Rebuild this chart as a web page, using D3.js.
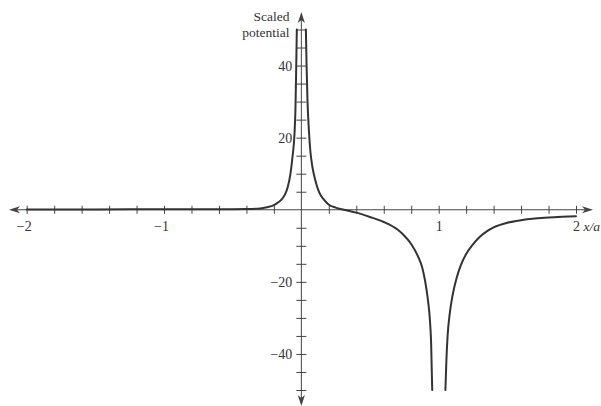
<!DOCTYPE html>
<html>
<head>
<meta charset="utf-8">
<script src="https://cdn.jsdelivr.net/npm/d3@7"></script>
<style>
  body { margin: 0; background: #fff; }
  svg { display: block; font-family: "Liberation Serif", "DejaVu Serif", serif; }
</style>
</head>
<body>
<svg id="chart" width="601" height="406"></svg>
<script>
// tick values and labels
const xTicks = [-2, -1.8, -1.6, -1.4, -1.2, -1, -0.8, -0.6, -0.4, -0.2,
                0.2, 0.4, 0.6, 0.8, 1, 1.2, 1.4, 1.6, 1.8, 2];
const xLabels = [-2, -1, 1, 2];
const yTicks = [-50, -45, -40, -35, -30, -25, -20, -15, -10, -5,
                5, 10, 15, 20, 25, 30, 35, 40, 45, 50];
const yLabels = [-40, -20, 20, 40];

// curve, three branches (x/a, scaled potential)
const leftX = [-2, -1.5, -1, -0.7, -0.5, -0.4, -0.3, -0.25, -0.2, -0.17, -0.14,
               -0.12, -0.1, -0.08, -0.065, -0.05, -0.043, -0.038, -0.033];
const leftV = [0.1, 0.1, 0.12, 0.14, 0.16, 0.2, 0.35, 0.7, 1.3, 2.0, 3.0,
               4.2, 6.2, 9.8, 14.5, 21, 28, 38, 50];

const midX = [0.033, 0.038, 0.045, 0.055, 0.065, 0.08, 0.095, 0.11, 0.13, 0.16,
              0.2, 0.25, 0.31, 0.4, 0.5, 0.6, 0.7, 0.75, 0.8, 0.85, 0.88, 0.9,
              0.92, 0.935, 0.945, 0.953];
const midV = [50, 40, 30, 22, 16.5, 12, 9.2, 7, 4.8, 3.0,
              1.4, 0.6, 0, -0.8, -2.0, -3.4, -5.5, -7.2, -9.5, -13, -16, -19.5,
              -24.5, -30, -37, -50];

const rightX = [1.049, 1.056, 1.065, 1.08, 1.1, 1.13, 1.16, 1.2, 1.25, 1.3,
                1.35, 1.4, 1.5, 1.6, 1.7, 1.8, 1.9, 2];
const rightV = [-50, -42, -35, -29, -24, -19, -15.5, -12.3, -9.6, -7.5,
                -6, -4.9, -3.6, -2.9, -2.45, -2.15, -1.95, -1.8];

const svg = d3.select("#chart");
const ink = "#333";
const axisInk = "#444";

const x = d3.scaleLinear().domain([-2, 2]).range([26.7, 576]);
const y = d3.scaleLinear().domain([-50, 50]).range([390, 29.5]);
const x0 = x(0), y0 = y(0);

const minus = d => (d < 0 ? "\u2212" : "") + Math.abs(d);

// axis lines with arrow heads
svg.append("line")
  .attr("x1", 12).attr("x2", 590).attr("y1", y0).attr("y2", y0)
  .attr("stroke", axisInk).attr("stroke-width", 1);
svg.append("line")
  .attr("x1", x0).attr("x2", x0).attr("y1", 15).attr("y2", 402)
  .attr("stroke", axisInk).attr("stroke-width", 1);

const arrow = (tx, ty, ang) => {
  const p = d3.path();
  p.moveTo(0, 0); p.lineTo(-11, -3.6); p.lineTo(-8, 0); p.lineTo(-11, 3.6); p.closePath();
  svg.append("path").attr("d", p.toString())
    .attr("transform", `translate(${tx},${ty}) rotate(${ang})`)
    .attr("fill", axisInk);
};
arrow(593, y0, 0);
arrow(9, y0, 180);
arrow(x0, 12, -90);
arrow(x0, 406, 90);

// x axis ticks
const gx = svg.append("g")
  .attr("transform", `translate(0,${y0})`)
  .call(d3.axisBottom(x).tickValues(xTicks).tickSize(4)
    .tickFormat(d => xLabels.includes(d) ? minus(d) : ""));
gx.select(".domain").remove();
gx.selectAll(".tick line").attr("y1", -4).attr("y2", 4).attr("stroke", axisInk);
gx.selectAll(".tick text")
  .attr("y", 21.5).attr("dy", 0)
  .attr("fill", ink)
  .attr("font-size", 14)
  .attr("font-family", "Liberation Serif, serif")
  .attr("text-anchor", d => d < 0 ? "end" : "middle")
  .attr("dx", d => d < 0 ? 4.5 : 0);

// y axis ticks
const gy = svg.append("g")
  .attr("transform", `translate(${x0},0)`)
  .call(d3.axisLeft(y).tickValues(yTicks).tickSize(5)
    .tickFormat(d => yLabels.includes(d) ? minus(d) : ""));
gy.select(".domain").remove();
gy.selectAll(".tick line").attr("x1", -5).attr("x2", 5).attr("stroke", axisInk);
gy.selectAll(".tick text")
  .attr("x", -9)
  .attr("fill", ink)
  .attr("font-size", 14)
  .attr("font-family", "Liberation Serif, serif");

// axis titles
svg.append("text")
  .attr("x", 289.5).attr("y", 20.5)
  .attr("text-anchor", "end").attr("font-size", 13.5).attr("fill", ink)
  .text("Scaled");
svg.append("text")
  .attr("x", 289.5).attr("y", 36.5)
  .attr("text-anchor", "end").attr("font-size", 13.5).attr("fill", ink)
  .text("potential");
svg.append("text")
  .attr("x", 583.5).attr("y", 230.5)
  .attr("font-size", 13.5).attr("font-style", "italic").attr("fill", ink)
  .text("x/a");

// the potential curve
const line = d3.line()
  .x(d => x(d[0]))
  .y(d => y(d[1]))
  .curve(d3.curveMonotoneX);

[[leftX, leftV], [midX, midV], [rightX, rightV]].forEach(([xs, vs]) => {
  svg.append("path")
    .datum(xs.map((v, i) => [v, vs[i]]))
    .attr("d", line)
    .attr("fill", "none")
    .attr("stroke", ink)
    .attr("stroke-width", 2)
    .attr("stroke-linecap", "round");
});
</script>
</body>
</html>
